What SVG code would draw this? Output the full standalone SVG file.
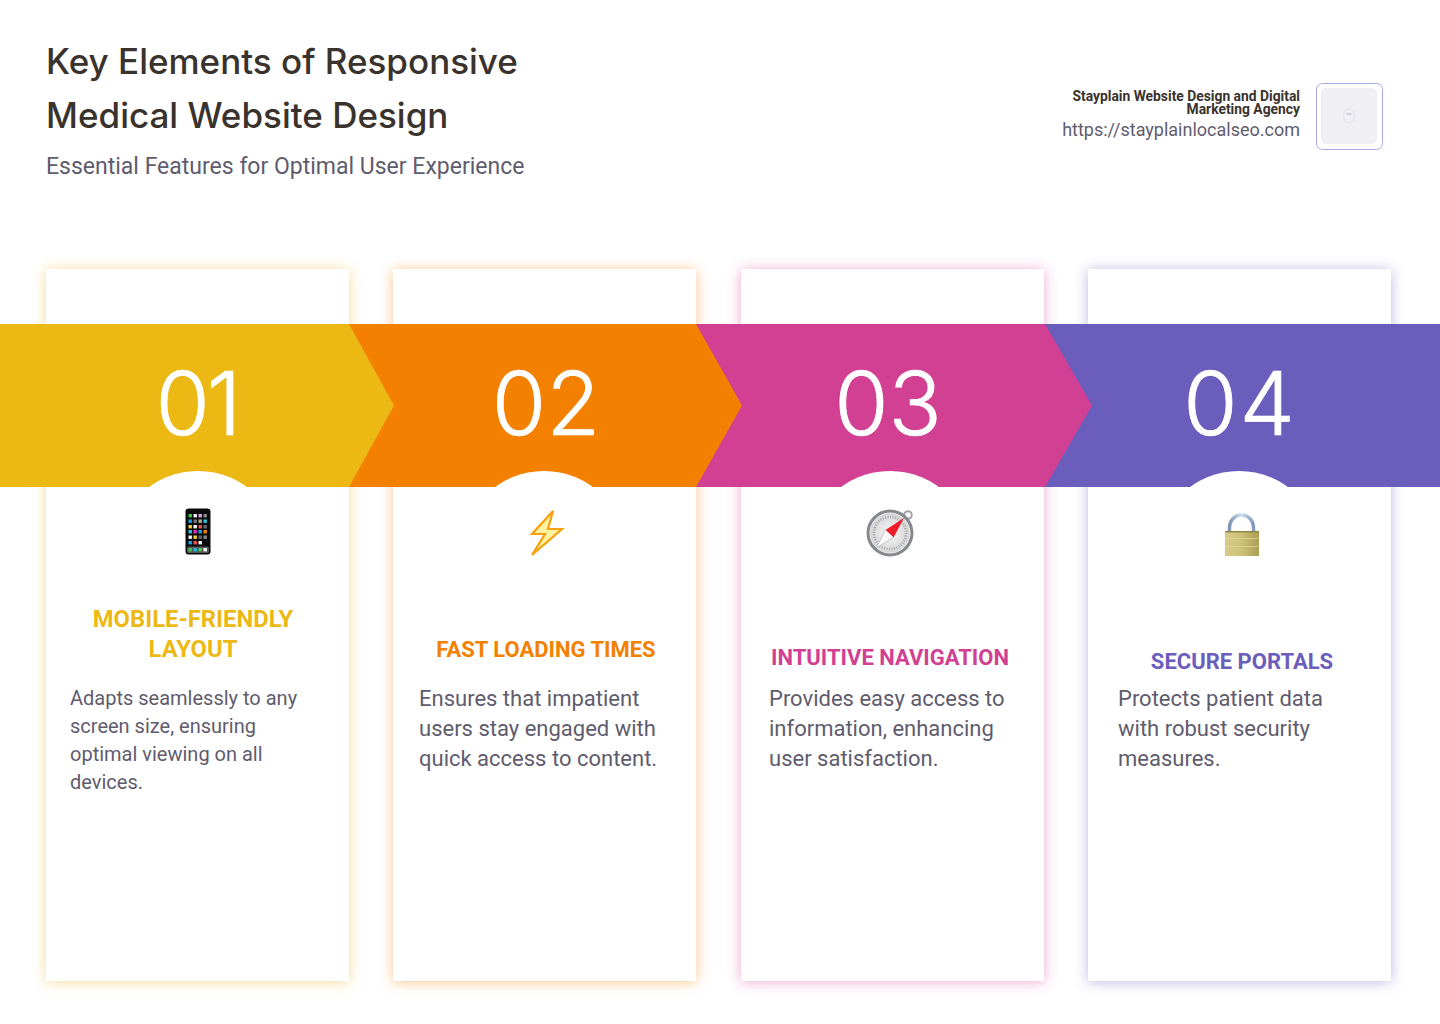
<svg xmlns="http://www.w3.org/2000/svg" width="1440" height="1024" viewBox="0 0 1440 1024">
<defs>
<style>
text{font-family:Roboto,"Liberation Sans",sans-serif}
.title{font-family:Inter,Roboto,sans-serif;font-size:35px;font-weight:450;fill:#3a322c}
.sub{font-size:23px;fill:#5f5c6e}
.org{font-size:13.850px;font-weight:700;fill:#3a322c;text-anchor:end}
.url{font-size:18px;fill:#5f5c6e;text-anchor:end}
.num{font-family:Inter,Roboto,sans-serif;font-size:88px;font-weight:300;fill:#fff;stroke:#fff;stroke-width:.7;text-anchor:middle}
.head{font-size:22px;font-weight:700;text-anchor:middle}
.head1{font-size:23.800px;font-weight:700;text-anchor:middle}
.b1{font-size:20px;fill:#5f5c6e}
.b2{font-size:22px;fill:#5f5c6e}
.card{fill:#fff}
</style>
<filter id="sy" x="-15%" y="-5%" width="130%" height="110%"><feDropShadow dx="0" dy="1" stdDeviation="7" flood-color="#ecb020" flood-opacity=".45"/></filter>
<filter id="so" x="-15%" y="-5%" width="130%" height="110%"><feDropShadow dx="0" dy="1" stdDeviation="7" flood-color="#f48000" flood-opacity=".45"/></filter>
<filter id="sp" x="-15%" y="-5%" width="130%" height="110%"><feDropShadow dx="0" dy="1" stdDeviation="7" flood-color="#d14092" flood-opacity=".45"/></filter>
<filter id="sv" x="-15%" y="-5%" width="130%" height="110%"><feDropShadow dx="0" dy="1" stdDeviation="7" flood-color="#6b5dbb" flood-opacity=".45"/></filter>
<linearGradient id="lockb" x1="0" x2="1" y1="0" y2="0"><stop offset="0" stop-color="#d9cc8a"/><stop offset=".5" stop-color="#cdbf74"/><stop offset="1" stop-color="#ab9e55"/></linearGradient>
<linearGradient id="shk" x1="0" x2="1" y1="0" y2="0"><stop offset="0" stop-color="#7f93b4"/><stop offset=".5" stop-color="#cfe0f4"/><stop offset="1" stop-color="#8098bc"/></linearGradient>
<radialGradient id="face"><stop offset="0" stop-color="#f8f8f8"/><stop offset="1" stop-color="#d4d4d4"/></radialGradient>
</defs>
<rect width="1440" height="1024" fill="#fff"/>
<g id="header">
<text class="title" x="46" y="74">Key Elements of Responsive</text>
<text class="title" x="46" y="128">Medical Website Design</text>
<text class="sub" x="46" y="174">Essential Features for Optimal User Experience</text>
</g>
<g id="brand">
<text class="org" x="1300" y="101">Stayplain Website Design and Digital</text>
<text class="org" x="1300" y="114">Marketing Agency</text>
<text class="url" x="1300" y="136">https://stayplainlocalseo.com</text>
<rect x="1316.500" y="83.500" width="66" height="66" rx="6" fill="#fff" stroke="#a8a8f0"/>
<rect x="1321" y="88" width="56" height="56" rx="5" fill="#efeff4"/>
<ellipse cx="1349" cy="116" rx="5.500" ry="7" fill="none" stroke="#e6e6ec" stroke-width="1.500"/>
<rect x="1346.500" y="113" width="5" height="2" fill="#d4d4da"/>
</g>
<g id="card-1"><rect class="card" x="46" y="269" width="303" height="712" filter="url(#sy)"/></g>
<g id="card-2"><rect class="card" x="393" y="269" width="303" height="712" filter="url(#so)"/></g>
<g id="card-3"><rect class="card" x="741" y="269" width="303" height="712" filter="url(#sp)"/></g>
<g id="card-4"><rect class="card" x="1088" y="269" width="303" height="712" filter="url(#sv)"/></g>
<g id="banner">
<polygon points="1045,324 1440,324 1440,487 1045,487" fill="#6b5dbb"/>
<polygon points="696,324 1045,324 1092,405.500 1045,487 696,487" fill="#d14092"/>
<polygon points="349,324 696,324 742,405.500 696,487 349,487" fill="#f48000"/>
<polygon points="0,324 349,324 394,405.500 349,487 0,487" fill="#ecb914"/>
<circle cx="198" cy="554" r="83" fill="#fff"/>
<circle cx="544" cy="554" r="83" fill="#fff"/>
<circle cx="890" cy="554" r="83" fill="#fff"/>
<circle cx="1239" cy="554" r="83" fill="#fff"/>
<rect x="46" y="487" width="303" height="80" fill="#fff"/>
<rect x="393" y="487" width="303" height="80" fill="#fff"/>
<rect x="741" y="487" width="303" height="80" fill="#fff"/>
<rect x="1088" y="487" width="303" height="80" fill="#fff"/>
<text class="num" x="197" y="435" letter-spacing="-3">01</text>
<text class="num" x="546" y="435">02</text>
<text class="num" x="888" y="435">03</text>
<text class="num" x="1240" y="435" letter-spacing="2">04</text>
</g>
<g id="icon-phone">
<rect x="185.500" y="508.500" width="25" height="46" rx="3" fill="#0a0a0a"/>
<g transform="translate(-.5 0)">
<rect x="189" y="514" width="3.400" height="3.400" fill="#3ccb4a"/><rect x="194" y="514" width="3.400" height="3.400" fill="#f4f4f4"/><rect x="199" y="514" width="3.400" height="3.400" fill="#d7a0e8"/><rect x="204" y="514" width="3.400" height="3.400" fill="#8a8a8a"/>
<rect x="189" y="519.500" width="3.400" height="3.400" fill="#1aa3e8"/><rect x="194" y="519.500" width="3.400" height="3.400" fill="#777"/><rect x="199" y="519.500" width="3.400" height="3.400" fill="#b8a88a"/><rect x="204" y="519.500" width="3.400" height="3.400" fill="#2cc5e0"/>
<rect x="189" y="525" width="3.400" height="3.400" fill="#f6d23c"/><rect x="194" y="525" width="3.400" height="3.400" fill="#f4f4f4"/><rect x="199" y="525" width="3.400" height="3.400" fill="#e8505a"/><rect x="204" y="525" width="3.400" height="3.400" fill="#666"/>
<rect x="189" y="530" width="3.400" height="3.400" fill="#2cc5e0"/><rect x="194" y="530" width="3.400" height="3.400" fill="#e030c8"/><rect x="199" y="530" width="3.400" height="3.400" fill="#1aa3e8"/><rect x="204" y="530" width="3.400" height="3.400" fill="#f48000"/>
<rect x="189" y="535.500" width="3.400" height="3.400" fill="#f4f4f4"/><rect x="194" y="535.500" width="3.400" height="3.400" fill="#f6d23c"/><rect x="199" y="535.500" width="3.400" height="3.400" fill="#666"/><rect x="204" y="535.500" width="3.400" height="3.400" fill="#888"/>
<rect x="189" y="541" width="3.400" height="3.400" fill="#1aa3e8"/><rect x="194" y="541" width="3.400" height="3.400" fill="#e8505a"/><rect x="199" y="541" width="3.400" height="3.400" fill="#f4f4f4"/>
<rect x="187.500" y="546.500" width="22" height="6.500" rx="1.500" fill="#555"/>
<rect x="189" y="548" width="3.400" height="3.400" fill="#3ccb4a"/><rect x="194" y="548" width="3.400" height="3.400" fill="#1ab8e8"/><rect x="199" y="548" width="3.400" height="3.400" fill="#3ccb4a"/><rect x="204" y="548" width="3.400" height="3.400" fill="#f4f4f4"/>
</g>
</g>
<g id="icon-bolt">
<polygon points="553,511 532,534 545,534 532,555 562,529 548,529" fill="#fff2a0" stroke="#f7a20c" stroke-width="2.200"/>
</g>
<g id="icon-compass">
<circle cx="908" cy="515" r="3.800" fill="none" stroke="#a0a4a8" stroke-width="2"/>
<circle cx="890" cy="533" r="23.500" fill="#85898e"/>
<circle cx="890" cy="533" r="20" fill="url(#face)" stroke="#eee" stroke-width="1"/>
<circle cx="890" cy="533" r="16" fill="none" stroke="#a5a5a5" stroke-width="2.500" stroke-dasharray="1 1.500"/>
<polygon points="904,518 893.500,537.500 885.500,530" fill="#ee1c25"/>
<polygon points="876,548 893.500,537.500 885.500,530" fill="#fafafa" stroke="#aaa" stroke-width=".6"/>
</g>
<g id="icon-lock">
<path d="M1229.500,533V528a12,13 0 0 1 24,0V533" fill="none" stroke="url(#shk)" stroke-width="3.500"/>
<rect x="1225" y="531" width="34" height="25" fill="url(#lockb)"/>
<rect x="1225" y="531" width="34" height="1.500" fill="#8f8745"/>
<rect x="1225" y="538" width="34" height="1" fill="#e6dca0" opacity=".6"/>
<rect x="1225" y="546" width="34" height="1" fill="#e6dca0" opacity=".6"/>
</g>
<g id="text-1">
<text class="head1" x="193" y="627" fill="#ecb914">MOBILE-FRIENDLY</text>
<text class="head1" x="193" y="657" fill="#ecb914">LAYOUT</text>
<text class="b1" x="70" y="705">Adapts seamlessly to any</text>
<text class="b1" x="70" y="733">screen size, ensuring</text>
<text class="b1" x="70" y="761">optimal viewing on all</text>
<text class="b1" x="70" y="789">devices.</text>
</g>
<g id="text-2">
<text class="head" x="546" y="657" fill="#f48000">FAST LOADING TIMES</text>
<text class="b2" x="419" y="706">Ensures that impatient</text>
<text class="b2" x="419" y="736">users stay engaged with</text>
<text class="b2" x="419" y="766">quick access to content.</text>
</g>
<g id="text-3">
<text class="head" x="890" y="665" fill="#d14092">INTUITIVE NAVIGATION</text>
<text class="b2" x="769" y="706">Provides easy access to</text>
<text class="b2" x="769" y="736">information, enhancing</text>
<text class="b2" x="769" y="766">user satisfaction.</text>
</g>
<g id="text-4">
<text class="head" x="1242" y="668.500" fill="#6b5dbb">SECURE PORTALS</text>
<text class="b2" x="1118" y="706">Protects patient data</text>
<text class="b2" x="1118" y="736">with robust security</text>
<text class="b2" x="1118" y="766">measures.</text>
</g>
</svg>
